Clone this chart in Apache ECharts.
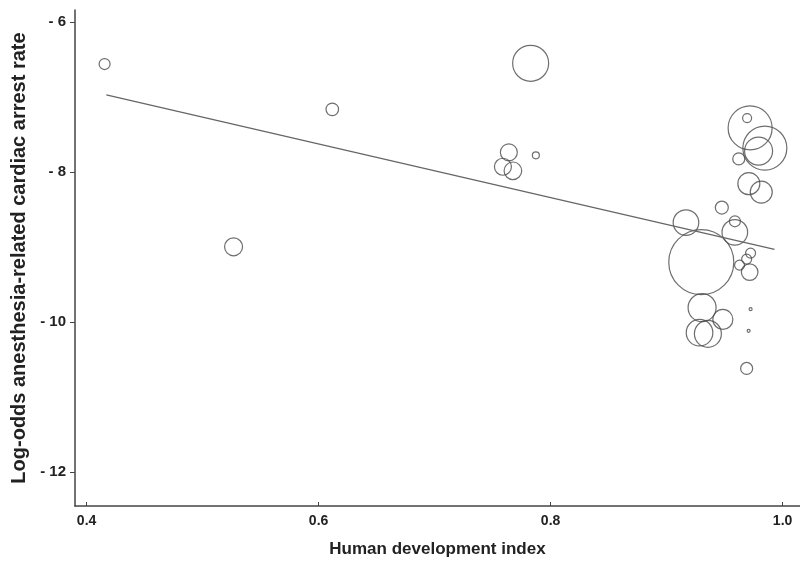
<!DOCTYPE html>
<html>
<head>
<meta charset="utf-8">
<script src="https://cdn.jsdelivr.net/npm/echarts@6/dist/echarts.min.js"></script>
<style>html,body{margin:0;padding:0;background:#fff}#c{width:800px;height:569px}</style>
</head>
<body>
<div id="c"></div>
<script>
// Human development index (x) per study
const hdi = [0.4155, 0.6118, 0.5267, 0.7828, 0.764, 0.7589, 0.7675, 0.7873,
  0.972, 0.9694, 0.9847, 0.9793, 0.9622, 0.9709, 0.9816, 0.9476, 0.9167, 0.9588, 0.9589,
  0.9299, 0.9629, 0.969, 0.9724, 0.9716, 0.9306, 0.9485, 0.9284, 0.9356, 0.9724, 0.9707, 0.969];
// Log-odds anesthesia-related cardiac arrest rate (y)
const logOdds = [-6.56, -7.164, -8.996, -6.55, -7.737, -7.929, -7.983, -7.777,
  -7.411, -7.28, -7.68, -7.72, -7.824, -8.155, -8.267, -8.473, -8.673, -8.803, -8.656,
  -9.2, -9.24, -9.16, -9.08, -9.333, -9.807, -9.964, -10.14, -10.155, -9.827, -10.116, -10.617];
// study weight (bubble radius measure)
const weight = [5.5, 6.3, 9, 18, 8.5, 8.5, 8.8, 3.5,
  22, 4.5, 22, 14, 6, 11, 11, 6.5, 12.8, 12.8, 5.5,
  32.5, 5, 5, 5, 8.3, 14, 10, 13.3, 13.5, 1.5, 1.5, 6];
// meta-regression fitted line endpoints
const fitX = [0.417, 0.993];
const fitY = [-6.97, -9.03];
const xTicks = [0.4, 0.6, 0.8, 1.0];
const yTicks = [-12, -10, -8, -6];

const pts = hdi.map((x, i) => [x, logOdds[i], weight[i]]);
const fit = fitX.map((x, i) => [x, fitY[i]]);

const chart = echarts.init(document.getElementById('c'));
const axisFont = {fontFamily: 'Liberation Sans, Arial, sans-serif', fontWeight: 'bold', color: '#222'};
chart.setOption({
  animation: false,
  backgroundColor: '#fff',
  grid: {left: 75, right: 0, top: 10, bottom: 63},
  xAxis: {
    type: 'value', min: 0.39, max: 1.015,
    name: 'Human development index', nameLocation: 'middle', nameGap: 35,
    nameTextStyle: Object.assign({fontSize: 17}, axisFont),
    axisLine: {lineStyle: {color: '#444', width: 1.5}},
    axisTick: {show: true, inside: true, length: 4, customValues: xTicks, lineStyle: {color: '#444'}},
    axisLabel: Object.assign({fontSize: 14, margin: 8, customValues: xTicks, formatter: v => v.toFixed(1)}, axisFont),
    splitLine: {show: false}
  },
  yAxis: {
    type: 'value', min: -12.45, max: -5.84,
    name: 'Log-odds anesthesia-related cardiac arrest rate', nameLocation: 'middle', nameGap: 46,
    nameTextStyle: Object.assign({fontSize: 20}, axisFont),
    axisLine: {show: true, lineStyle: {color: '#444', width: 1.5}},
    axisTick: {show: true, length: 5, customValues: yTicks, lineStyle: {color: '#444'}},
    axisLabel: Object.assign({fontSize: 15, margin: 9, customValues: yTicks, formatter: v => '- ' + Math.abs(v)}, axisFont),
    splitLine: {show: false}
  },
  series: [
    {
      type: 'scatter', data: pts,
      symbol: 'circle',
      symbolSize: d => 2 * d[2],
      itemStyle: {color: 'rgba(255,255,255,0)', borderColor: '#4a4a4a', borderWidth: 1.2},
      silent: true
    },
    {
      type: 'line', data: fit, showSymbol: false, symbol: 'none',
      lineStyle: {color: '#666', width: 1.3}, silent: true
    }
  ]
});
</script>
</body>
</html>
